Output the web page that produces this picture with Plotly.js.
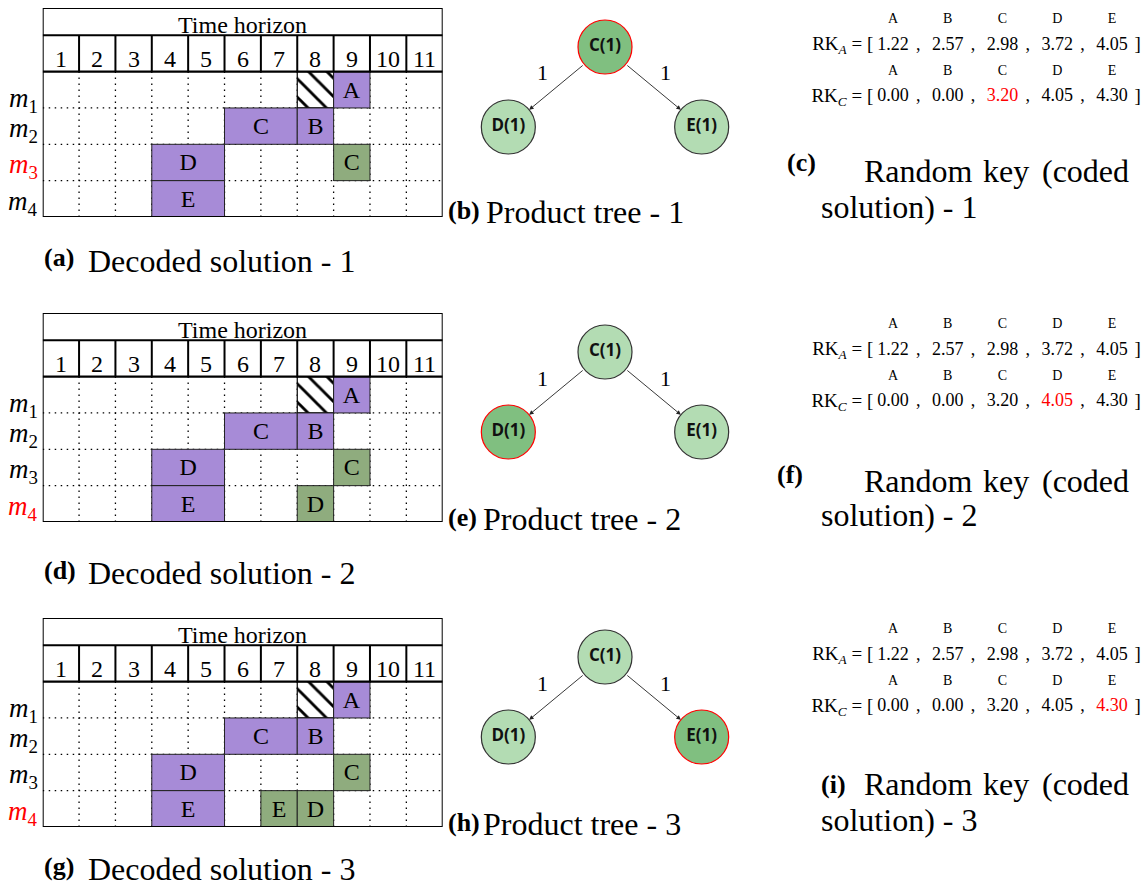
<!DOCTYPE html>
<html><head><meta charset="utf-8">
<script src="https://cdn.plot.ly/plotly-3.0.1.min.js"></script>
<style>html,body{margin:0;padding:0;background:#fff}#chart{width:1148px;height:887px}</style>
</head><body><div id="chart"></div>
<script>
// ---------------- data ----------------
const periods = [1,2,3,4,5,6,7,8,9,10,11];
const machines = [1,2,3,4];
const timeTitle = 'Time horizon';
// common (already scheduled) operations – purple
const baseLabel   = ['A','C','B','D','E'];
const baseMachine = [1,2,2,3,4];
const baseStart   = [9,6,8,4,4];
const baseDur     = [1,2,1,2,2];
// set-up / blocked slot (hatched)
const setupMachine = [1];
const setupStart   = [8];
const setupDur     = [1];
// newly decoded operations per solution – green
const newLabel   = [['C'],['C','D'],['C','E','D']];
const newMachine = [[3],[3,4],[3,4,4]];
const newStart   = [[9],[9,8],[9,7,8]];
const newDur     = [[1],[1,1],[1,1,1]];
const redMachine = [3,4,4];
// product tree
const treeNode   = ['C','D','E'];
const treeQty    = [1,1,1];
const treeParent = [null,'C','C'];
const edgeQty    = [null,1,1];
const treeRed    = ['C','D','E'];
// random keys
const items = ['A','B','C','D','E'];
const rkA   = [1.22,2.57,2.98,3.72,4.05];
const rkC   = [0.00,0.00,3.20,4.05,4.30];
const rkRed = ['C','D','E'];
// captions
const capGanttLabel = ['(a)','(d)','(g)'];
const capTreeLabel  = ['(b)','(e)','(h)'];
const capRKLabel    = ['(c)','(f)','(i)'];
const solutionNo    = [1,2,3];

// ---------------- layout helpers ----------------
const W = 1148, H = 887;
const px = v => v / W, py = v => 1 - v / H;
const sfx = i => (i === 1 ? '' : String(i));
const SERIF = 'Liberation Serif, Times New Roman, serif';
const SANS = 'Open Sans, DejaVu Sans, sans-serif';
const PURPLE = '#a78bd7', GREEN = '#8fac7e', NODE_DARK = '#80bf80', NODE_LIGHT = '#b3dcb3';
const DOT = '1.5px,4.5px';

const ganttTop = [8, 313, 618];
const rowOff = [0, 305, 610];
const ganttCapY = [261, 573, 869];
const treeCapY = [212, 519, 824];
const treeCapX = [484, 481, 481];
const rkLabelPos = [[801, 162], [790, 475], [833, 784]];
const rkLine1Y = [171, 481, 784];
const rkLine2Y = [207, 515, 820];

const data = [];
const shapes = [];
const annotations = [];
const layout = {
  width: W, height: H, margin: {l:0, r:0, t:0, b:0},
  paper_bgcolor: '#fff', plot_bgcolor: 'rgba(0,0,0,0)',
  showlegend: false, barmode: 'overlay',
  font: {family: SERIF, color: '#000'}
};
const hidden = {visible: false, fixedrange: true, showgrid: false, zeroline: false};

for (let r = 0; r < 3; r++) {
  const gi = 3*r + 1, ti = 3*r + 2, ki = 3*r + 3;
  const gx = 'x' + sfx(gi), gy = 'y' + sfx(gi);
  const tx = 'x' + sfx(ti), ty = 'y' + sfx(ti);
  const kx = 'x' + sfx(ki), ky = 'y' + sfx(ki);
  const top = ganttTop[r], off = rowOff[r];

  // ---- Gantt axes ----
  layout['xaxis' + sfx(gi)] = Object.assign({}, hidden, {domain: [px(42.7), px(442.7)], range: [0, periods.length], anchor: gy});
  layout['yaxis' + sfx(gi)] = Object.assign({}, hidden, {domain: [py(top + 209), py(top)], range: [machines.length + 0.5, -1.25], anchor: gx});

  periods.slice(0, -1).forEach(p => {
    shapes.push({type:'line', xref:gx, yref:gy, x0:p, x1:p, y0:0.5, y1:machines.length + 0.5, layer:'below',
      line:{color:'#000', width:1.3, dash:DOT}});
    shapes.push({type:'line', xref:gx, yref:gy, x0:p, x1:p, y0:-0.5, y1:0.5, layer:'above',
      line:{color:'#000', width:2}});
  });
  machines.slice(0, -1).forEach(m => {
    shapes.push({type:'line', xref:gx, yref:gy, x0:0, x1:periods.length, y0:m + 0.5, y1:m + 0.5, layer:'below',
      line:{color:'#000', width:1.3, dash:DOT}});
  });
  shapes.push({type:'line', xref:gx, yref:gy, x0:0, x1:periods.length, y0:0.5, y1:0.5, layer:'above', line:{color:'#000', width:2.2}});
  shapes.push({type:'line', xref:gx, yref:gy, x0:0, x1:periods.length, y0:-0.5, y1:-0.5, layer:'above', line:{color:'#000', width:2}});
  shapes.push({type:'rect', xref:gx, yref:gy, x0:0, x1:periods.length, y0:-1.25, y1:machines.length + 0.5, layer:'above', line:{color:'#000', width:2}});

  annotations.push({xref:gx, yref:gy, x:periods.length / 2, y:-0.875, yshift:-3, text:timeTitle, showarrow:false,
    font:{family:SERIF, size:24, color:'#000'}});
  periods.forEach(p => annotations.push({xref:gx, yref:gy, x:p - 0.5, y:0, yshift:-6, text:String(p), showarrow:false,
    font:{family:SERIF, size:24, color:'#000'}}));
  machines.forEach(m => annotations.push({xref:gx, yref:gy, x:0, y:m, xanchor:'right', xshift:-3, yshift:(m === 1 ? -10 : -4),
    text:'<i>m</i><sub>' + m + '</sub>', showarrow:false,
    font:{family:SERIF, size:27, color:(m === redMachine[r] ? '#ff0000' : '#000')}}));

  const barCommon = {type:'bar', orientation:'h', width:1, xaxis:gx, yaxis:gy, hoverinfo:'skip',
    textposition:'inside', insidetextanchor:'middle', constraintext:'none',
    textfont:{family:SERIF, size:24, color:'#000'}};
  data.push({type:'bar', orientation:'h', width:1, xaxis:gx, yaxis:gy, hoverinfo:'skip',
    y:setupMachine, base:setupStart.map(s => s - 1), x:setupDur,
    marker:{color:'#fff', line:{color:'#000', width:1.2},
      pattern:{shape:'\\', fgcolor:'#000', bgcolor:'#fff', size:13, solidity:0.22}}});
  data.push(Object.assign({}, barCommon, {y:baseMachine, base:baseStart.map(s => s - 1), x:baseDur, text:baseLabel,
    marker:{color:PURPLE, line:{color:'#222', width:1}}}));
  data.push(Object.assign({}, barCommon, {y:newMachine[r], base:newStart[r].map(s => s - 1), x:newDur[r], text:newLabel[r],
    marker:{color:GREEN, line:{color:'#222', width:1}}}));

  annotations.push({xref:'paper', yref:'paper', x:px(42), y:py(ganttCapY[r] - 3), xanchor:'left', yanchor:'middle',
    text:'<b>' + capGanttLabel[r] + '</b>', showarrow:false, font:{family:SERIF, size:26, color:'#000'}});
  annotations.push({xref:'paper', yref:'paper', x:px(86), y:py(ganttCapY[r]), xanchor:'left', yanchor:'middle',
    text:'Decoded solution - ' + solutionNo[r], showarrow:false, font:{family:SERIF, size:32, color:'#000'}});

  // ---- product tree ----
  layout['xaxis' + sfx(ti)] = Object.assign({}, hidden, {domain: [px(460), px(750)], range: [-1.5, 1.5], anchor: ty});
  layout['yaxis' + sfx(ti)] = Object.assign({}, hidden, {domain: [py(167 + off), py(7 + off)], range: [-0.5, 1.5], anchor: tx});
  const level = treeNode.map(function lv(n) { const i = treeNode.indexOf(n); return treeParent[i] === null ? 0 : 1 + lv(treeParent[i]); });
  const nx = treeNode.map((n, i) => {
    if (treeParent[i] === null) return 0;
    const sib = treeNode.filter((m, j) => treeParent[j] === treeParent[i]);
    const k = sib.indexOf(n);
    return 2 * (k - (sib.length - 1) / 2);
  });
  const ny = level.map(l => 1 - l);
  data.push({type:'scatter', mode:'markers+text', x:nx, y:ny, xaxis:tx, yaxis:ty, hoverinfo:'skip',
    text:treeNode.map((n, i) => n + '(' + treeQty[i] + ')'),
    textposition:'middle center', textfont:{family:SANS, size:17, weight:700, color:'#111'},
    marker:{size:54, color:treeNode.map(n => n === treeRed[r] ? NODE_DARK : NODE_LIGHT),
      line:{width:1.2, color:treeNode.map(n => n === treeRed[r] ? '#ff0000' : '#333')}}});
  treeNode.forEach((n, i) => {
    if (treeParent[i] === null) return;
    const pi = treeNode.indexOf(treeParent[i]);
    annotations.push({xref:tx, yref:ty, axref:tx, ayref:ty, x:nx[i], y:ny[i], ax:nx[pi], ay:ny[pi], text:'',
      showarrow:true, arrowhead:2, arrowsize:1, arrowwidth:0.9, arrowcolor:'#222', standoff:27, startstandoff:27});
    annotations.push({xref:tx, yref:ty, x:(nx[i] + nx[pi]) / 2, y:(ny[i] + ny[pi]) / 2, xshift:(nx[i] < nx[pi] ? -14 : 12), yshift:14,
      text:String(edgeQty[i]), showarrow:false, font:{family:SERIF, size:22, color:'#000'}});
  });
  annotations.push({xref:'paper', yref:'paper', x:px(446), y:py(treeCapY[r] - 2), xanchor:'left', yanchor:'middle',
    text:'<b>' + capTreeLabel[r] + '</b>', showarrow:false, font:{family:SERIF, size:26, color:'#000'}});
  annotations.push({xref:'paper', yref:'paper', x:px(treeCapX[r]), y:py(treeCapY[r]), xanchor:'left', yanchor:'middle',
    text:'Product tree - ' + solutionNo[r], showarrow:false, font:{family:SERIF, size:32, color:'#000'}});

  // ---- random keys ----
  layout['xaxis' + sfx(ki)] = Object.assign({}, hidden, {domain: [px(805.4), px(1144.85)], range: [-1.6, 4.6], anchor: ky});
  layout['yaxis' + sfx(ki)] = Object.assign({}, hidden, {domain: [py(109.83 + off), py(7.17 + off)], range: [-0.5, 3.5], anchor: kx});
  const idx = items.map((_, i) => i);
  const rows = [{y:2, name:'A', vals:rkA, red:-1}, {y:0, name:'C', vals:rkC, red:items.indexOf(rkRed[r])}];
  rows.forEach(row => {
    data.push({type:'scatter', mode:'text', x:idx, y:idx.map(() => row.y + 1), xaxis:kx, yaxis:ky, hoverinfo:'skip',
      text:items, textfont:{family:SERIF, size:14, color:'#000'}});
    data.push({type:'scatter', mode:'text', x:idx, y:idx.map(() => row.y), xaxis:kx, yaxis:ky, hoverinfo:'skip',
      text:row.vals.map(v => v.toFixed(2)),
      textfont:{family:SERIF, size:18, color:row.vals.map((v, i) => i === row.red ? '#ff0000' : '#000')}});
    data.push({type:'scatter', mode:'text', x:idx.slice(0, -1).map(i => i + 0.46), y:idx.slice(0, -1).map(() => row.y), xaxis:kx, yaxis:ky,
      hoverinfo:'skip', text:idx.slice(0, -1).map(() => ','), textfont:{family:SERIF, size:18, color:'#000'}});
    data.push({type:'scatter', mode:'text', x:[-0.36, items.length - 0.53], y:[row.y, row.y], xaxis:kx, yaxis:ky, hoverinfo:'skip',
      text:['RK<sub><i>' + row.name + '</i></sub> = [', ']'], textposition:['middle left', 'middle center'],
      textfont:{family:SERIF, size:19, color:'#000'}});
  });
  annotations.push({xref:'paper', yref:'paper', x:px(rkLabelPos[r][0]), y:py(rkLabelPos[r][1]), xanchor:'center', yanchor:'middle',
    text:'<b>' + capRKLabel[r] + '</b>', showarrow:false, font:{family:SERIF, size:26, color:'#000'}});
  ['Random', 'key', '(coded'].forEach((w, j) => {
    const xs = [862, 1006, 1131][j], xa = ['left', 'center', 'right'][j];
    annotations.push({xref:'paper', yref:'paper', x:px(xs), y:py(rkLine1Y[r]), xanchor:xa, yanchor:'middle',
      text:w, showarrow:false, font:{family:SERIF, size:32, color:'#000'}});
  });
  annotations.push({xref:'paper', yref:'paper', x:px(819), y:py(rkLine2Y[r]), xanchor:'left', yanchor:'middle',
    text:'solution) - ' + solutionNo[r], showarrow:false, font:{family:SERIF, size:32, color:'#000'}});
}
layout.shapes = shapes;
layout.annotations = annotations;
Plotly.newPlot('chart', data, layout, {staticPlot:true, displayModeBar:false});
</script>
</body></html>
